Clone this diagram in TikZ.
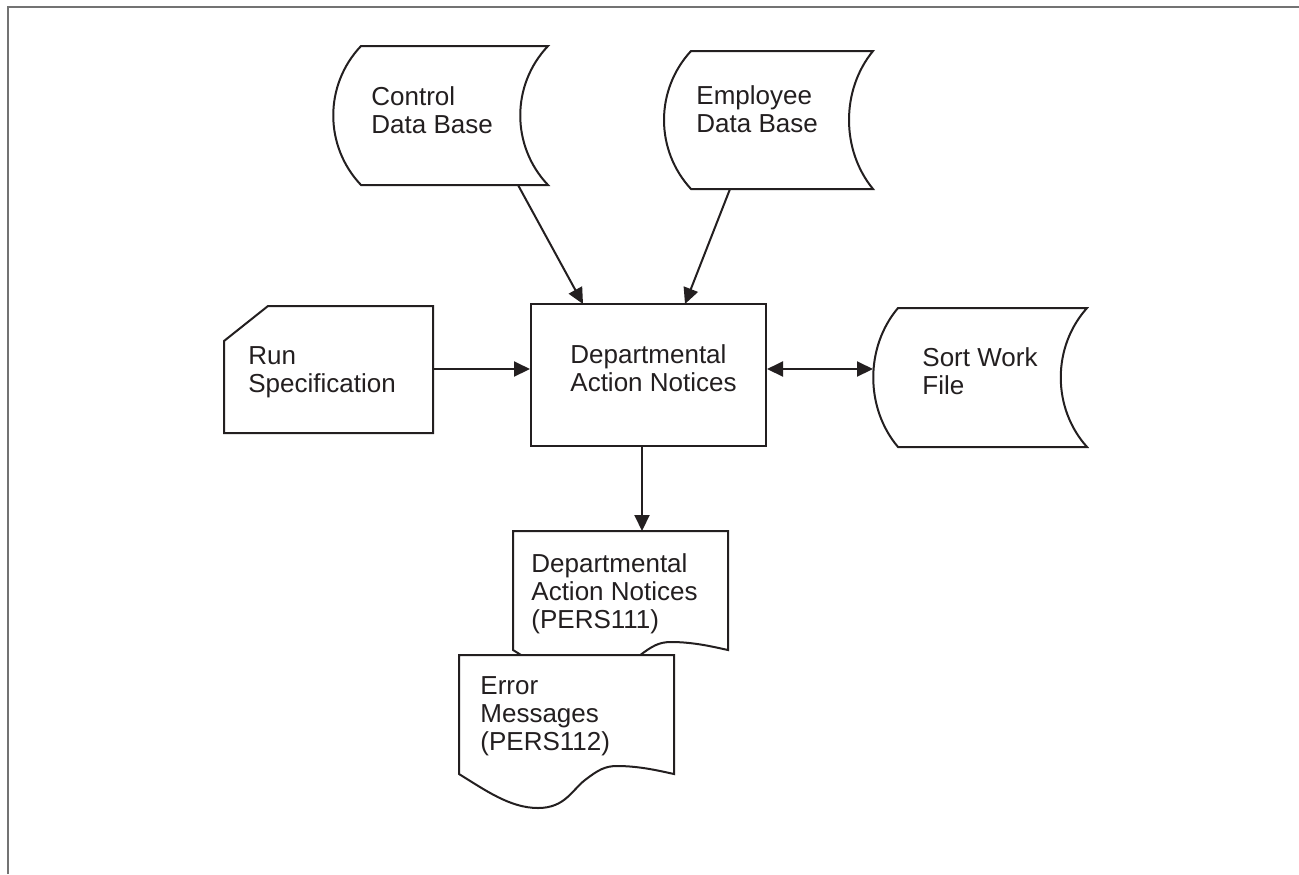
\documentclass[tikz,border=0pt]{standalone}
\usepackage{fontspec}
\setmainfont{Liberation Sans}
\usetikzlibrary{arrows.meta}
\definecolor{ink}{HTML}{231F20}
\begin{document}
\begin{tikzpicture}[x=0.5pt,y=-0.5pt,
  outline/.style={draw=ink, line width=1pt, fill=white, line join=miter},
  % text blocks are placed by the baseline of their last line
  txt/.style={anchor=base west, inner sep=0pt, align=left, text=ink,
    font=\fontsize{13}{14}\selectfont},
  flow/.style={draw=ink, line width=1pt, -{Triangle[length=8pt,width=7.5pt]}},
  flowboth/.style={draw=ink, line width=1pt,
    {Triangle[length=8pt,width=7.5pt]}-{Triangle[length=8pt,width=7.5pt]}},
  procbox/.style={draw=ink, line width=1pt, fill=white, inner sep=0pt,
    minimum width=117.5pt, minimum height=71pt},
  docpage/.pic={
    \draw[outline] (0,0) -- (215,0) -- (215,119)
      .. controls (201,116) and (181,111) .. (158,111)
      .. controls (146,111) and (139,115) .. (126,125)
      .. controls (113,135) and (106,153) .. (79,153)
      .. controls (51,153) and (26,135) .. (0,119) -- cycle;
  }]
\useasboundingbox (0,0) rectangle (1299,874);

% page frame (top and left edges only)
\draw[black!55, line width=1pt] (8,874) -- (8,6.5) -- (1299,6.5);

% Control Data Base (stored data)
\draw[outline] (361,46) -- (548,46)
  .. controls (511,85) and (511,146) .. (548,185) -- (361,185)
  .. controls (324,146) and (324,85) .. (361,46) -- cycle;
\node[txt] (cdb) at (371,133) {Control\\Data Base};
\coordinate (cdb-out) at (518,185);

% Employee Data Base (stored data)
\draw[outline] (691,51) -- (873,51)
  .. controls (841,90) and (841,150) .. (873,189) -- (691,189)
  .. controls (655,150) and (655,90) .. (691,51) -- cycle;
\node[txt] (edb) at (696,132) {Employee\\Data Base};
\coordinate (edb-out) at (730,189);

% Run Specification (card)
\draw[outline] (268,306) -- (433,306) -- (433,433) -- (224,433) -- (224,341) -- cycle;
\node[txt] (rs) at (248,392) {Run\\Specification};
\coordinate (rs-out) at (433,369);

% Departmental Action Notices (process)
\node[procbox] (dan) at (648.5,375) {};
\node[txt] (dan-t) at (570,391) {Departmental\\Action Notices};
\coordinate (dan-in-a) at (583,304);
\coordinate (dan-in-b) at (685,304);

% Sort Work File (stored data)
\draw[outline] (898,308) -- (1087,308)
  .. controls (1052,347) and (1052,408) .. (1087,447) -- (898,447)
  .. controls (865,408) and (865,347) .. (898,308) -- cycle;
\node[txt] (swf) at (922,394) {Sort Work\\File};
\coordinate (swf-in) at (873,369);

% printed reports
\pic (rep1) at (513,531) {docpage};
\node[txt] (rep1-t) at (531,628) {Departmental\\Action Notices\\(PERS111)};
\coordinate (rep1-in) at (642,531);
\pic (rep2) at (459,655) {docpage};
\node[txt] (rep2-t) at (480,750) {Error\\Messages\\(PERS112)};

% data flows
\draw[flow] (cdb-out) -- (dan-in-a);
\draw[flow] (edb-out) -- (dan-in-b);
\draw[flow] (rs-out) -- (rs-out -| dan.west);
\draw[flowboth] (swf-in -| dan.east) -- (swf-in);
\draw[flow] (rep1-in |- dan.south) -- (rep1-in);
\end{tikzpicture}
\end{document}
